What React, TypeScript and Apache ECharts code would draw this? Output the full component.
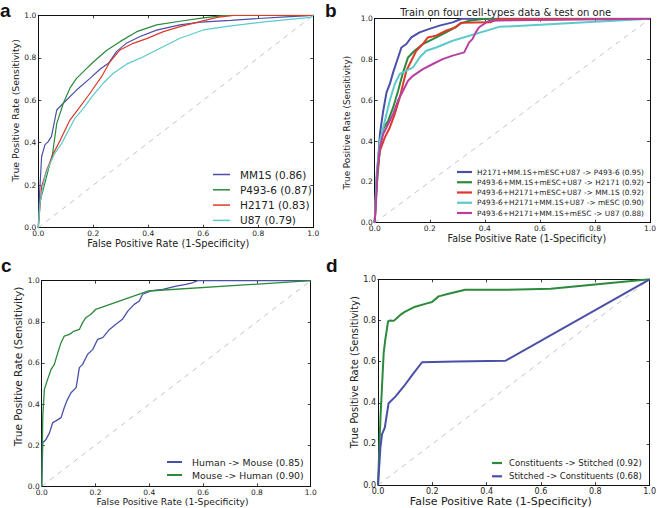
import React, { useEffect, useRef } from "react";
import * as echarts from "echarts";

// ---------- data ----------
const tickValues = [0, 0.2, 0.4, 0.6, 0.8, 1.0];
const diagonal = [[0, 0], [1, 1]];

// panel a
const aNames = ["MM1S (0.86)", "P493-6 (0.87)", "H2171 (0.83)", "U87 (0.79)"];
const aMM1S = [[0,0],[0.004,0.146],[0.012,0.334],[0.024,0.39],[0.036,0.405],[0.048,0.43],[0.067,0.554],[0.091,0.586],[0.139,0.648],[0.188,0.703],[0.224,0.746],[0.255,0.774],[0.285,0.83],[0.32,0.868],[0.37,0.9],[0.43,0.93],[0.515,0.955],[0.59,0.968],[0.7,0.976],[0.8,0.985],[0.9,0.993],[1,1]];
const aP493 = [[0,0],[0.006,0.12],[0.03,0.24],[0.052,0.35],[0.067,0.49],[0.091,0.586],[0.115,0.657],[0.139,0.703],[0.164,0.735],[0.2,0.78],[0.248,0.834],[0.297,0.876],[0.358,0.923],[0.43,0.955],[0.515,0.972],[0.6,0.988],[0.68,1],[1,1]];
const aH2171 = [[0,0],[0.012,0.193],[0.03,0.27],[0.055,0.35],[0.079,0.41],[0.115,0.507],[0.152,0.57],[0.188,0.633],[0.23,0.711],[0.26,0.78],[0.297,0.837],[0.345,0.868],[0.394,0.89],[0.455,0.923],[0.515,0.947],[0.588,0.97],[0.65,0.99],[0.71,1],[1,1]];
const aU87 = [[0,0],[0.006,0.115],[0.024,0.24],[0.042,0.3],[0.06,0.35],[0.085,0.397],[0.133,0.515],[0.164,0.562],[0.2,0.625],[0.236,0.68],[0.273,0.727],[0.321,0.77],[0.382,0.805],[0.43,0.837],[0.515,0.892],[0.6,0.931],[0.7,0.95],[0.83,0.97],[0.99,0.99],[1,1]];

// panel b
const bTitle = "Train on four cell-types data & test on one";
const bNames = [
  "H2171+MM.1S+mESC+U87 -> P493-6 (0.95)",
  "P493-6+MM.1S+mESC+U87 -> H2171 (0.92)",
  "P493-6+H2171+mESC+U87 -> MM.1S (0.92)",
  "P493-6+H2171+MM.1S+U87 -> mESC (0.90)",
  "P493-6+H2171+MM.1S+mESC -> U87 (0.88)",
];
const bP493 = [[0,0],[0.007,0.206],[0.019,0.435],[0.031,0.549],[0.043,0.639],[0.055,0.68],[0.067,0.737],[0.085,0.81],[0.097,0.859],[0.115,0.876],[0.133,0.908],[0.163,0.933],[0.199,0.95],[0.235,0.966],[0.283,0.982],[0.316,1],[1,1]];
const bH2171 = [[0,0],[0.007,0.17],[0.019,0.37],[0.031,0.46],[0.049,0.5],[0.067,0.565],[0.085,0.647],[0.103,0.737],[0.121,0.81],[0.145,0.843],[0.175,0.876],[0.211,0.9],[0.247,0.925],[0.283,0.95],[0.313,0.977],[0.343,0.99],[0.4,1],[1,1]];
const bMM1S = [[0,0],[0.007,0.22],[0.019,0.353],[0.037,0.418],[0.055,0.467],[0.073,0.533],[0.091,0.614],[0.103,0.68],[0.115,0.745],[0.133,0.794],[0.151,0.843],[0.175,0.876],[0.193,0.908],[0.223,0.917],[0.259,0.941],[0.295,0.958],[0.313,0.98],[0.42,0.982],[0.45,1],[1,1]];
const bmESC = [[0,0],[0.007,0.24],[0.019,0.4],[0.037,0.5],[0.055,0.6],[0.073,0.68],[0.091,0.729],[0.115,0.745],[0.139,0.761],[0.163,0.81],[0.187,0.843],[0.223,0.859],[0.283,0.892],[0.452,0.96],[1,1]];
const bU87 = [[0,0],[0.005,0.108],[0.01,0.255],[0.019,0.37],[0.031,0.435],[0.049,0.484],[0.067,0.533],[0.085,0.6],[0.103,0.647],[0.121,0.696],[0.139,0.72],[0.175,0.753],[0.211,0.778],[0.247,0.802],[0.283,0.819],[0.325,0.835],[0.343,0.884],[0.355,0.9],[0.367,0.933],[0.379,0.958],[0.397,0.974],[0.415,0.99],[0.5,0.992],[1,1]];

// panel c
const cNames = ["Human -> Mouse (0.85)", "Mouse -> Human (0.90)"];
const cHumanMouse = [[0,0],[0.004,0.212],[0.016,0.228],[0.029,0.26],[0.041,0.31],[0.053,0.318],[0.072,0.334],[0.084,0.383],[0.096,0.423],[0.109,0.455],[0.128,0.48],[0.14,0.577],[0.152,0.593],[0.171,0.642],[0.19,0.666],[0.208,0.715],[0.227,0.723],[0.252,0.763],[0.276,0.788],[0.3,0.812],[0.32,0.852],[0.344,0.885],[0.363,0.901],[0.375,0.934],[0.406,0.95],[0.45,0.958],[0.5,0.974],[0.536,0.982],[0.56,0.99],[0.58,1],[1,1]];
const cMouseHuman = [[0,0],[0.004,0.342],[0.01,0.472],[0.022,0.52],[0.035,0.569],[0.047,0.593],[0.06,0.65],[0.072,0.699],[0.084,0.731],[0.103,0.739],[0.121,0.755],[0.14,0.763],[0.152,0.796],[0.164,0.82],[0.183,0.837],[0.201,0.861],[0.397,0.95],[1,1]];

// panel d
const dNames = ["Constituents -> Stitched (0.92)", "Stitched -> Constituents (0.68)"];
const dConstStitched = [[0,0],[0.009,0.327],[0.021,0.644],[0.027,0.708],[0.037,0.795],[0.045,0.8],[0.058,0.798],[0.082,0.827],[0.1,0.843],[0.137,0.867],[0.18,0.883],[0.199,0.89],[0.223,0.917],[0.26,0.93],[0.321,0.949],[0.469,0.949],[0.636,0.954],[1,1]];
const dStitchedConst = [[0,0],[0.009,0.184],[0.015,0.248],[0.025,0.279],[0.039,0.398],[0.064,0.43],[0.094,0.478],[0.125,0.533],[0.162,0.597],[0.285,0.6],[0.469,0.604],[1,1]];

const xName = "False Positive Rate (1-Specificity)";
const yName = "True Positive Rate (Sensitivity)";

// ---------- styles ----------
const BLUE = "#4a4fa8";
const GREEN = "#2b8a3b";
const RED = "#dd3a2c";
const CYAN = "#5ccaca";
const MAGENTA = "#b7409f";
const FONT = "DejaVu Sans";

type Panel = {
  grid: { left: number; top: number; width: number; height: number };
  curves: { name: string; data: number[][]; color: string }[];
  lineWidth: number;
  tickFont: number;
  xNameFont: number;
  yNameFont: number;
  xNameGap: number;
  yNameGap: number;
  xShift: number; // + moves name right
  yShift: number; // + moves name up
  legend: { left: number; top: number; font: number; lineH: number; gap: number; iconW: number; iconH: number; textPad: number };
};

const panels: Panel[] = [
  {
    grid: { left: 38.3, top: 15.3, width: 275, height: 212.4 },
    curves: [
      { name: aNames[0], data: aMM1S, color: BLUE },
      { name: aNames[1], data: aP493, color: GREEN },
      { name: aNames[2], data: aH2171, color: RED },
      { name: aNames[3], data: aU87, color: CYAN },
    ],
    lineWidth: 1.2, tickFont: 7.5, xNameFont: 9.8, yNameFont: 9.4, xNameGap: 9, yNameGap: 18,
    xShift: -7.5, yShift: 11,
    legend: { left: 213, top: 169, font: 10.5, lineH: 10, gap: 4.3, iconW: 17, iconH: 1.5, textPad: 5 },
  },
  {
    grid: { left: 374.7, top: 18.7, width: 277.6, height: 204 },
    curves: [
      { name: bNames[0], data: bP493, color: BLUE },
      { name: bNames[1], data: bH2171, color: GREEN },
      { name: bNames[2], data: bMM1S, color: RED },
      { name: bNames[3], data: bmESC, color: CYAN },
      { name: bNames[4], data: bU87, color: MAGENTA },
    ],
    lineWidth: 2, tickFont: 7.5, xNameFont: 9.6, yNameFont: 8.8, xNameGap: 10, yNameGap: 23,
    xShift: 14.5, yShift: -2,
    legend: { left: 457, top: 168, font: 7.35, lineH: 8, gap: 2.25, iconW: 15, iconH: 2.2, textPad: 0 },
  },
  {
    grid: { left: 41.7, top: 280.7, width: 269, height: 205.6 },
    curves: [
      { name: cNames[0], data: cHumanMouse, color: BLUE },
      { name: cNames[1], data: cMouseHuman, color: GREEN },
    ],
    lineWidth: 1.3, tickFont: 7.5, xNameFont: 9.2, yNameFont: 10.5, xNameGap: 10, yNameGap: 18,
    xShift: -3.7, yShift: 17,
    legend: { left: 167, top: 457, font: 9.3, lineH: 10, gap: 3, iconW: 15, iconH: 2, textPad: 5 },
  },
  {
    grid: { left: 378, top: 279.3, width: 271.7, height: 210 },
    curves: [
      { name: dNames[0], data: dConstStitched, color: GREEN },
      { name: dNames[1], data: dStitchedConst, color: BLUE },
    ],
    lineWidth: 2, tickFont: 8, xNameFont: 11, yNameFont: 10, xNameGap: 6, yNameGap: 19,
    xShift: -13, yShift: 10,
    legend: { left: 492, top: 458, font: 8.5, lineH: 10, gap: 3.3, iconW: 10, iconH: 2.2, textPad: 2 },
  },
];

function shiftPad(s: number) {
  // padding [top, right, bottom, left] in the text's own direction
  return s >= 0 ? [0, 0, 0, 2 * s] : [0, -2 * s, 0, 0];
}

function buildOption() {
  const grid: any[] = [];
  const xAxis: any[] = [];
  const yAxis: any[] = [];
  const series: any[] = [];
  const legend: any[] = [];

  const axisCommon = (gi: number) => ({
    type: "value",
    gridIndex: gi,
    min: tickValues[0],
    max: tickValues[tickValues.length - 1],
    interval: 0.2,
    splitLine: { show: false },
    axisLine: { show: true, onZero: false, lineStyle: { color: "#111", width: 1 } },
    axisTick: { show: true, inside: true, length: 3, lineStyle: { color: "#111", width: 0.8 } },
  });

  panels.forEach((p, i) => {
    grid.push({ ...p.grid, containLabel: false });
    const labelStyle = {
      show: true,
      fontFamily: FONT,
      fontSize: p.tickFont,
      color: "#222",
      formatter: (v: number) => v.toFixed(1),
    };
    xAxis.push({
      ...axisCommon(i),
      position: "bottom",
      axisLabel: { ...labelStyle, margin: 2 },
      name: xName,
      nameLocation: "middle",
      nameGap: p.xNameGap,
      nameTextStyle: {
        fontFamily: FONT, fontSize: p.xNameFont, color: "#222", verticalAlign: "top",
        padding: shiftPad(p.xShift),
      },
    });
    xAxis.push({ ...axisCommon(i), position: "top", axisLabel: { show: false } });
    yAxis.push({
      ...axisCommon(i),
      position: "left",
      axisLabel: { ...labelStyle, margin: 2 },
      name: yName,
      nameLocation: "middle",
      nameGap: p.yNameGap,
      nameTextStyle: {
        fontFamily: FONT, fontSize: p.yNameFont, color: "#222",
        padding: shiftPad(p.yShift),
      },
    });
    yAxis.push({ ...axisCommon(i), position: "right", axisLabel: { show: false } });

    series.push({
      type: "line",
      name: "diag-" + i,
      xAxisIndex: 2 * i,
      yAxisIndex: 2 * i,
      data: diagonal,
      symbol: "none",
      silent: true,
      z: 1,
      color: "#bdbdbd",
      lineStyle: { color: "#bdbdbd", width: 0.9, type: [5, 5] },
    });
    p.curves.forEach((c) => {
      series.push({
        type: "line",
        name: c.name,
        xAxisIndex: 2 * i,
        yAxisIndex: 2 * i,
        data: c.data,
        symbol: "none",
        showSymbol: false,
        color: c.color,
        z: 3,
        lineStyle: { color: c.color, width: p.lineWidth },
      });
    });
    legend.push({
      show: true,
      orient: "vertical",
      left: p.legend.left,
      top: p.legend.top,
      padding: 0,
      itemGap: p.legend.gap,
      itemWidth: p.legend.iconW,
      itemHeight: p.legend.iconH,
      icon: "rect",
      selectedMode: false,
      data: p.curves.map((c) => c.name),
      textStyle: {
        fontFamily: FONT,
        fontSize: p.legend.font,
        lineHeight: p.legend.lineH,
        color: "#222",
        padding: [0, 0, 0, p.legend.textPad],
      },
    });
  });

  const letter = (t: string, x: number, y: number) => ({
    type: "text",
    x,
    y,
    style: {
      text: t,
      fontFamily: "Liberation Sans",
      fontWeight: "bold",
      fontSize: 19,
      lineHeight: 19,
      fill: "#111",
      align: "left",
      verticalAlign: "middle",
    },
  });

  const graphic = [
    letter("a", 0, 10),
    letter("b", 325, 10),
    letter("c", 1, 265.5),
    letter("d", 326, 265.5),
    {
      type: "text",
      x: 505.7,
      y: 12.7,
      style: {
        text: bTitle,
        fontFamily: FONT,
        fontSize: 10,
        fill: "#222",
        align: "center",
        verticalAlign: "middle",
      },
    },
  ];

  return {
    animation: false,
    backgroundColor: "#ffffff",
    grid,
    xAxis,
    yAxis,
    series,
    legend,
    graphic,
  };
}

export default function App() {
  const ref = useRef<HTMLDivElement>(null);
  useEffect(() => {
    if (!ref.current) return;
    const chart = echarts.init(ref.current, undefined, { renderer: "svg" });
    chart.setOption(buildOption() as any);
    return () => chart.dispose();
  }, []);
  return (
    <div
      ref={ref}
      style={{ position: "fixed", left: 0, top: 0, width: 659, height: 508, background: "#fff" }}
    />
  );
}
